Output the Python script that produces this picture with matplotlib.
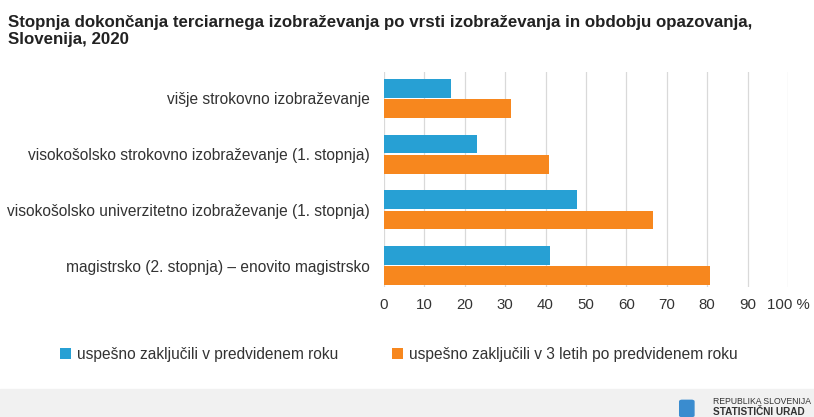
import matplotlib
matplotlib.use('Agg')
import matplotlib.pyplot as plt
from matplotlib.patches import Rectangle, FancyBboxPatch

plt.rcParams['font.family'] = ['Liberation Sans', 'DejaVu Sans']

# data
categories = ['višje strokovno izobraževanje',
              'visokošolsko strokovno izobraževanje (1. stopnja)',
              'visokošolsko univerzitetno izobraževanje (1. stopnja)',
              'magistrsko (2. stopnja) – enovito magistrsko']
on_time = [16.7, 23.1, 47.9, 41.0]
within_3y = [31.4, 40.9, 66.7, 80.8]
series_names = ['uspešno zaključili v predvidenem roku',
                'uspešno zaključili v 3 letih po predvidenem roku']
ticks = list(range(0, 101, 10))
tick_labels = [str(t) for t in ticks[:-1]] + ['100 %']

blue = '#27a0d4'
orange = '#f7871e'

fig = plt.figure(figsize=(8.14, 4.17), dpi=100)
ax = fig.add_axes([0.4717, 0.3125, 0.4963, 0.5155])

pos = list(range(len(categories)))
h = 0.336
off = 0.183
ax.barh([p - off for p in pos], on_time, height=h, color=blue, label=series_names[0], zorder=3)
ax.barh([p + off for p in pos], within_3y, height=h, color=orange, label=series_names[1], zorder=3)

ax.set_xlim(0, 100)
ax.set_ylim(3.38, -0.48)
ax.set_xticks(ticks)
ax.set_xticklabels(tick_labels)
ax.set_yticks(pos)
ax.set_yticklabels(categories)
ax.tick_params(axis='both', length=0, labelsize=11.2, colors='#333333')
ax.tick_params(axis='x', labelsize=10.8, pad=8)
ax.tick_params(axis='y', pad=10)
ax.grid(axis='x', color='#d9d9d9', linewidth=0.9, zorder=0)
for s in ax.spines.values():
    s.set_visible(False)

fig.text(0.01, 0.963, 'Stopnja dokončanja terciarnega izobraževanja po vrsti izobraževanja in obdobju opazovanja,\nSlovenija, 2020',
         fontsize=12.2, fontweight='bold', color='#222222', va='top', ha='left', linespacing=1.15)

handles, labels = ax.get_legend_handles_labels()
fig.legend(handles, labels, loc='center', bbox_to_anchor=(0.49, 0.151), ncol=2, frameon=False,
           fontsize=11.2, handlelength=0.7, handleheight=0.7, handletextpad=0.4, columnspacing=3.4,
           labelcolor='#333333')

# footer band with logo
fig.patches.append(Rectangle((0, 0), 1, 0.067, transform=fig.transFigure, color='#f1f1f1', zorder=0))
fig.patches.append(FancyBboxPatch((0.838, 0.004), 0.0115, 0.033, boxstyle='round,pad=0.003',
                                  transform=fig.transFigure, color='#3a8ccf', zorder=1))
fig.text(0.876, 0.038, 'REPUBLIKA SLOVENIJA', fontsize=6.2, color='#333333', va='center', ha='left')
fig.text(0.876, 0.013, 'STATISTIČNI URAD', fontsize=7.2, fontweight='bold', color='#333333', va='center', ha='left')

fig.savefig('out.png', dpi=100)
